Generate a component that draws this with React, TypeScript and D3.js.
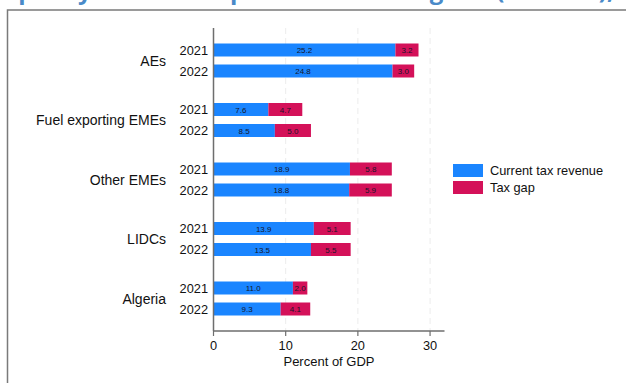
import React from "react";
import * as d3 from "d3";

// Tax revenue and tax gap by country group, percent of GDP
const groups = ["AEs", "Fuel exporting EMEs", "Other EMEs", "LIDCs", "Algeria"];
const years = ["2021", "2022"];
const currentRevenue2021 = [25.2, 7.6, 18.9, 13.9, 11.0];
const currentRevenue2022 = [24.8, 8.5, 18.8, 13.5, 9.3];
const taxGap2021 = [3.2, 4.7, 5.8, 5.1, 2.0];
const taxGap2022 = [3.0, 5.0, 5.9, 5.5, 4.1];
const xTicks = [0, 10, 20, 30];
const seriesNames = ["Current tax revenue", "Tax gap"];

const W = 626;
const H = 383;
const BLUE = "#1a85ff";
const RED = "#d41159";
const FONT = "Liberation Sans, Arial, Helvetica, sans-serif";

type Row = { group: string; year: string; revenue: number; gap: number };

const rows: Row[] = groups.flatMap((g, i) => [
  { group: g, year: years[0], revenue: currentRevenue2021[i], gap: taxGap2021[i] },
  { group: g, year: years[1], revenue: currentRevenue2022[i], gap: taxGap2022[i] },
]);

export default function App() {
  const x = d3.scaleLinear().domain([0, 32]).range([213.5, 444.5]);
  const yGroup = d3.scalePoint<string>().domain(groups).range([60.5, 298.5]);
  const yYear = d3.scalePoint<string>().domain(years).range([-10.5, 10.5]);
  const barH = 13;
  const plotTop = 28;
  const axisY = 331;

  const stack = d3.stack<Row>().keys(["revenue", "gap"]);
  const series = stack(rows);
  const colors = [BLUE, RED];

  return (
    <svg
      width={W}
      height={H}
      viewBox={`0 0 ${W} ${H}`}
      style={{ position: "absolute", left: 0, top: 0, background: "#fff" }}
      fontFamily={FONT}
    >
      {/* heading, mostly above the visible frame */}
      <text
        x={-60}
        y={-1}
        fontSize={24}
        fontWeight="bold"
        fill="#4a8ac8"
        fontFamily="Open Sans, Liberation Sans, sans-serif"
      >
        Tax Capacity and Tax Gap Estimates of Algeria (2021–22), Percent of GDP
      </text>

      {/* outer frame */}
      <rect x={7.5} y={10} width={W + 20} height={H + 20} fill="#fff" stroke="#7a7a7a" strokeWidth={1.5} />

      {/* vertical gridlines */}
      {xTicks.filter((t) => t > 0).map((t) => (
        <line
          key={`g${t}`}
          x1={x(t)}
          x2={x(t)}
          y1={plotTop}
          y2={axisY}
          stroke="#ececec"
          strokeWidth={1}
          strokeDasharray="6,4"
        />
      ))}

      {/* stacked bars */}
      {series.map((s, si) => (
        <g key={s.key}>
          {s.map((d, i) => {
            const r = d.data;
            const yc = (yGroup(r.group) ?? 0) + (yYear(r.year) ?? 0);
            const x0 = x(d[0]);
            const x1 = x(d[1]);
            const val = si === 0 ? r.revenue : r.gap;
            return (
              <g key={i}>
                <rect
                  x={x0}
                  y={yc - barH / 2}
                  width={x1 - x0}
                  height={barH}
                  fill={colors[si]}
                />
                <text
                  x={(x0 + x1) / 2}
                  y={yc + 3}
                  fontSize={8}
                  textAnchor="middle"
                  fill="#15152a"
                >
                  {val.toFixed(1)}
                </text>
              </g>
            );
          })}
        </g>
      ))}

      {/* y axis */}
      <line x1={x(0)} x2={x(0)} y1={plotTop} y2={axisY} stroke="#6e6e6e" strokeWidth={1.5} />

      {/* year labels */}
      {rows.map((r, i) => (
        <text
          key={`yl${i}`}
          x={208}
          y={(yGroup(r.group) ?? 0) + (yYear(r.year) ?? 0) + 4.5}
          fontSize={12.8}
          textAnchor="end"
          fill="#111"
        >
          {r.year}
        </text>
      ))}

      {/* group labels */}
      {groups.map((g) => (
        <text key={g} x={166} y={(yGroup(g) ?? 0) + 5} fontSize={14} textAnchor="end" fill="#111">
          {g}
        </text>
      ))}

      {/* x axis */}
      <line x1={x(0)} x2={x(32)} y1={axisY} y2={axisY} stroke="#6e6e6e" strokeWidth={1.5} />
      {xTicks.map((t) => (
        <g key={`t${t}`}>
          <line x1={x(t)} x2={x(t)} y1={axisY} y2={axisY + 5} stroke="#6e6e6e" strokeWidth={1.2} />
          <text x={x(t)} y={axisY + 19} fontSize={12.8} textAnchor="middle" fill="#111">
            {t}
          </text>
        </g>
      ))}
      <text x={(x(0) + x(32)) / 2} y={366} fontSize={13} textAnchor="middle" fill="#111">
        Percent of GDP
      </text>

      {/* legend */}
      {seriesNames.map((n, i) => (
        <g key={n} transform={`translate(453, ${164 + i * 17})`}>
          <rect x={0} y={0} width={30} height={13} fill={colors[i]} />
          <text x={37} y={11} fontSize={12.8} fill="#111">
            {n}
          </text>
        </g>
      ))}
    </svg>
  );
}
